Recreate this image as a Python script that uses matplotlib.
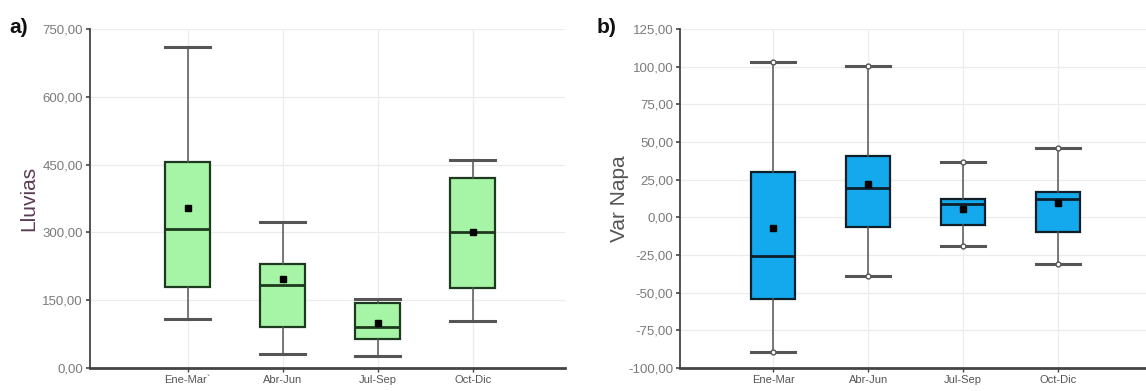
import matplotlib
matplotlib.use('Agg')
import matplotlib.pyplot as plt
from matplotlib.ticker import FuncFormatter

# Trimestral summaries: whisker low, Q1, median, Q3, whisker high, mean
labels_a = ['Ene-Mar`', 'Abr-Jun', 'Jul-Sep', 'Oct-Dic']
lluvias_low = [108, 31, 26, 105]
lluvias_q1 = [179, 91, 64, 178]
lluvias_med = [308, 183, 91, 300]
lluvias_q3 = [455, 230, 143, 421]
lluvias_high = [711, 322, 153, 460]
lluvias_mean = [353, 198, 100, 302]

labels_b = ['Ene-Mar', 'Abr-Jun', 'Jul-Sep', 'Oct-Dic']
napa_low = [-89.4, -39.0, -19.3, -31.0]
napa_q1 = [-54.0, -6.1, -5.0, -9.8]
napa_med = [-25.7, 19.8, 8.7, 12.3]
napa_q3 = [30.0, 40.6, 11.9, 16.9]
napa_high = [102.9, 100.5, 36.6, 45.9]
napa_mean = [-7.2, 22.2, 5.7, 9.2]

plt.rcParams['font.family'] = ['Liberation Sans', 'DejaVu Sans']


def build_stats(low, q1, med, q3, high, mean):
    return [dict(whislo=a, q1=b, med=c, q3=d, whishi=e, mean=f, fliers=[])
            for a, b, c, d, e, f in zip(low, q1, med, q3, high, mean)]


def comma_fmt(v, pos):
    return f'{v:.2f}'.replace('.', ',')


def draw_panel(ax, stats, labels, fill, edge, ylim, step, ylabel, ylabel_color, end_marks):
    bp = ax.bxp(stats, positions=range(1, 5), widths=0.47, capwidths=0.47,
                patch_artist=True, showmeans=True, showfliers=False,
                boxprops=dict(facecolor=fill, edgecolor=edge, linewidth=1.6),
                medianprops=dict(color=edge, linewidth=2.0),
                whiskerprops=dict(color='#555555', linewidth=1.1),
                capprops=dict(color='#555555', linewidth=2.2),
                meanprops=dict(marker='s', markerfacecolor='black',
                               markeredgecolor='black', markersize=4))
    if end_marks:
        for w in bp['whiskers']:
            xs, ys = w.get_data()
            ax.plot(xs[1], ys[1], 'o', ms=3.5, mfc='white', mec='#555555',
                    mew=1.0, zorder=4)
    ax.set_ylim(*ylim)
    ax.set_yticks([ylim[0] + i * step for i in range(int(round((ylim[1] - ylim[0]) / step)) + 1)])
    ax.yaxis.set_major_formatter(FuncFormatter(comma_fmt))
    ax.set_xticks(range(1, 5))
    ax.set_xticklabels(labels)
    ax.grid(True, color='#ececec', linewidth=0.9)
    ax.set_axisbelow(True)
    for s in ['top', 'right']:
        ax.spines[s].set_visible(False)
    ax.spines['left'].set_color('#444444')
    ax.spines['left'].set_linewidth(1.3)
    ax.spines['bottom'].set_color('#444444')
    ax.spines['bottom'].set_linewidth(2.0)
    ax.tick_params(axis='y', labelsize=9.5, colors='#444444', labelcolor='#7a7a7a',
                   length=3, width=1.2, pad=2)
    ax.tick_params(axis='x', labelsize=8, colors='#444444', labelcolor='#555555',
                   length=3, width=1.0, pad=2)
    ax.set_ylabel(ylabel, fontsize=15, color=ylabel_color)
    ax.yaxis.set_label_coords(-0.108, 0.5)


fig = plt.figure(figsize=(11.46, 3.91), dpi=100)

ax_a = fig.add_axes([0.0785, 0.0588, 0.4145, 0.867])
draw_panel(ax_a, build_stats(lluvias_low, lluvias_q1, lluvias_med, lluvias_q3,
                             lluvias_high, lluvias_mean),
           labels_a, '#a6f5a6', '#1e3a1e', (0, 750), 150, 'Lluvias', '#5a3a55', False)
ax_a.set_xlim(-0.03, 4.97)

ax_b = fig.add_axes([0.5934, 0.0588, 0.4145, 0.867])
draw_panel(ax_b, build_stats(napa_low, napa_q1, napa_med, napa_q3,
                             napa_high, napa_mean),
           labels_b, '#13a9ec', '#0f1f2a', (-100, 125), 25, 'Var Napa', '#555555', True)
ax_b.set_xlim(0.02, 5.02)

fig.text(0.008, 0.915, 'a)', fontsize=15, fontweight='bold', color='#111111')
fig.text(0.521, 0.915, 'b)', fontsize=15, fontweight='bold', color='#111111')

fig.savefig('out.png', dpi=100)
